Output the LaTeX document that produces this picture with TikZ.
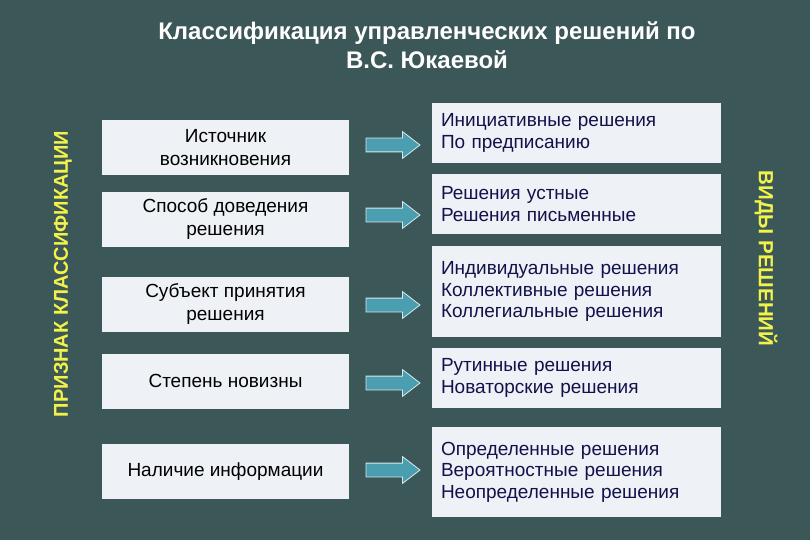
\documentclass[tikz,border=0pt]{standalone}
\usepackage{fontspec}
\setmainfont{Liberation Sans}
\usetikzlibrary{shapes.arrows}
\definecolor{bgslate}{HTML}{3C5758}
\definecolor{boxfill}{HTML}{EEF2F7}
\definecolor{arrowfill}{HTML}{4B9DB0}
\definecolor{arrowline}{HTML}{D4ECF0}
\definecolor{labelyellow}{HTML}{F2F24A}
\definecolor{navytext}{HTML}{12124A}

\begin{document}
\begin{tikzpicture}[x=1pt,y=-1pt,
    signbox/.style={rectangle, fill=boxfill, minimum width=247pt, minimum height=55pt,
        align=center, text=black, font=\fontsize{19}{23}\selectfont},
    kindbox/.style={rectangle, fill=boxfill, inner xsep=9pt, text width=271pt,
        align=left, text=navytext, font=\fontsize{19}{21.5}\selectfont},
    fatarrow/.style={single arrow, fill=arrowfill, draw=arrowline, line width=0.8pt,
        minimum height=54pt, minimum width=26pt, single arrow head extend=6.5pt,
        single arrow tip angle=75, inner xsep=0pt, inner ysep=6.5pt}]
    % Background
    \fill[bgslate] (0,0) rectangle (810,540);
    \useasboundingbox (0,0) rectangle (810,540);

    % Title
    \node[text=white, align=center, font=\bfseries\fontsize{24}{29}\selectfont] (title) at (427,45)
        {Классификация управленческих решений по\\В.С. Юкаевой};

    % Side labels
    \node[rotate=90, text=labelyellow, font=\bfseries\fontsize{20}{22}\selectfont] (sign) at (63,274)
        {ПРИЗНАК КЛАССИФИКАЦИИ};
    \node[rotate=-90, text=labelyellow, font=\bfseries\fontsize{20.5}{22}\selectfont] (kind) at (766,258.5)
        {ВИДЫ РЕШЕНИЙ};

    % Classification features
    \node[signbox] (p1) at (225.5,147.5) {Источник\\возникновения};
    \node[signbox] (p2) at (225.5,219.5) {Способ доведения\\решения};
    \node[signbox] (p3) at (225.5,304) {Субъект принятия\\решения};
    \node[signbox] (p4) at (225.5,381) {Степень новизны};
    \node[signbox] (p5) at (225.5,471.5) {Наличие информации};

    % Kinds of decisions
    \node[kindbox, minimum height=60pt] (v1) at (576.5,133) {Инициативные решения\\По предписанию};
    \node[kindbox, minimum height=60pt] (v2) at (576.5,204) {Решения устные\\Решения письменные};
    \node[kindbox, minimum height=91pt] (v3) at (576.5,291.5) {Индивидуальные решения\\Коллективные решения\\Коллегиальные решения};
    \node[kindbox, minimum height=60pt] (v4) at (576.5,378) {Рутинные решения\\Новаторские решения};
    \node[kindbox, minimum height=90pt] (v5) at (576.5,472) {Определенные решения\\Вероятностные решения\\Неопределенные решения};

    % Arrows
    \foreach \i/\y in {1/145,2/215,3/305,4/383,5/470} {
        \node[fatarrow] (a\i) at (388.5,\y) {};
    }
\end{tikzpicture}
\end{document}
